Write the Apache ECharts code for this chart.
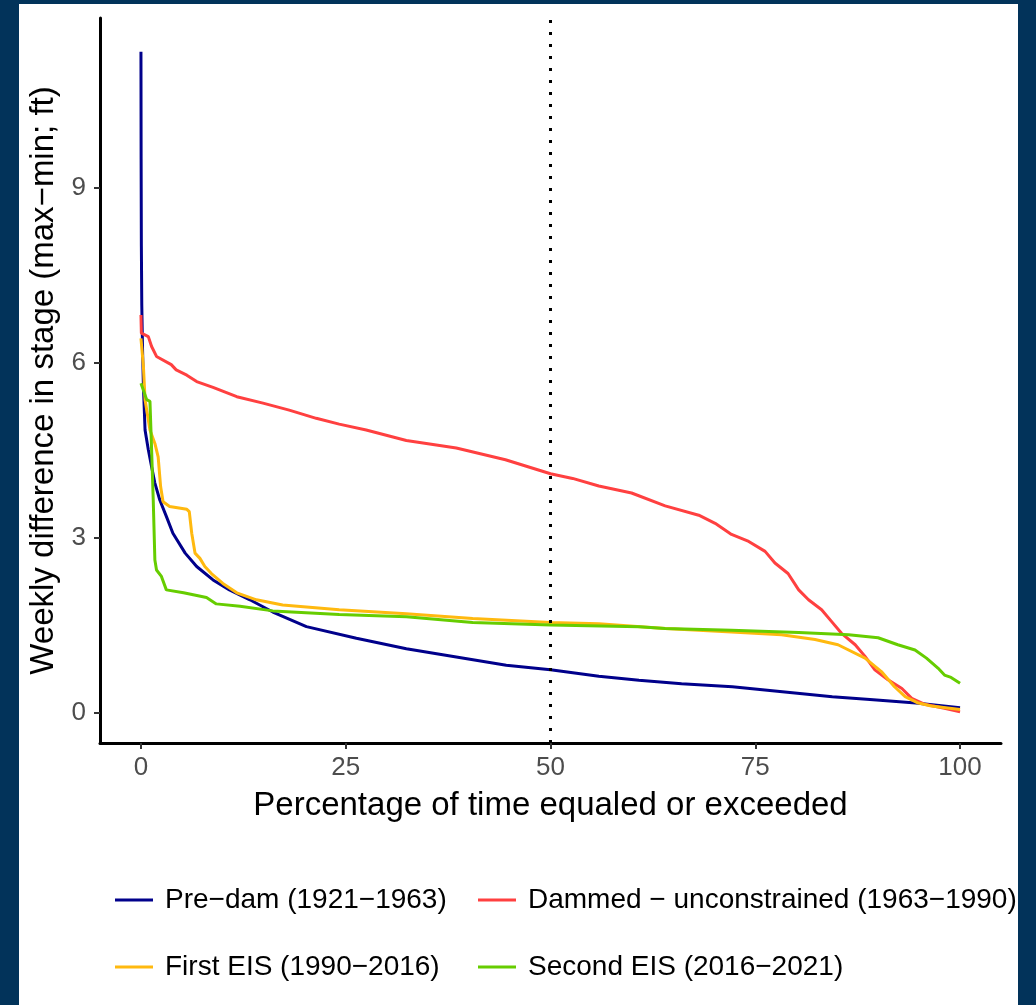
<!DOCTYPE html>
<html>
<head>
<meta charset="utf-8">
<title>Weekly stage difference</title>
<script src="https://cdn.jsdelivr.net/npm/echarts@6/dist/echarts.min.js"></script>
<style>
    html, body { margin: 0; padding: 0; background: #02335a; }
    #chart { position: absolute; left: 19px; top: 4px; width: 999px; height: 1001px; background: #fff; }
</style>
</head>
<body>
<div id="chart"></div>
<script>
// [percent of time equaled or exceeded, weekly max-min stage (ft)]
const preDam = [[0, 11.33], [0.02, 9.5], [0.05, 8.0], [0.1, 7.0], [0.2, 6.2], [0.3, 5.6], [0.5, 4.85], [0.9, 4.51],
    [1.3, 4.22], [1.7, 3.94], [2.3, 3.65], [3.1, 3.37], [3.9, 3.08], [5.4, 2.74], [6.8, 2.51], [8.8, 2.28],
    [10.8, 2.11], [13.3, 1.94], [16.1, 1.73], [20.2, 1.48], [26.3, 1.28], [32.4, 1.10], [38.5, 0.96],
    [44.6, 0.82], [50, 0.74], [55.9, 0.63], [60.8, 0.56], [66, 0.50], [72.2, 0.45], [78, 0.37], [84.4, 0.28],
    [89, 0.23], [94.6, 0.17], [100, 0.09]];
const dammed = [[0, 6.82], [0.05, 6.51], [0.9, 6.45], [1.3, 6.28], [1.9, 6.11], [3.7, 5.97], [4.3, 5.88],
    [5.6, 5.79], [6.8, 5.68], [8.8, 5.58], [11.7, 5.42], [14.9, 5.31], [18.1, 5.19], [21.4, 5.05], [24.2, 4.95],
    [27.5, 4.85], [32.4, 4.67], [38.5, 4.54], [44.5, 4.34], [50, 4.10], [52.7, 4.02], [55.9, 3.89], [59.9, 3.77],
    [64.0, 3.55], [68.1, 3.39], [70.1, 3.25], [72.1, 3.06], [74.2, 2.94], [76.2, 2.77], [77.4, 2.57], [79.0, 2.39],
    [80.3, 2.11], [81.5, 1.94], [83.1, 1.77], [84.3, 1.57], [85.5, 1.37], [87.2, 1.17], [88.4, 0.97], [89.6, 0.74],
    [91.2, 0.57], [92.9, 0.42], [94.1, 0.25], [95.7, 0.15], [98.1, 0.08], [100, 0.02]];
const firstEis = [[0, 6.42], [0.3, 5.94], [0.5, 5.37], [1.1, 4.85], [1.7, 4.62], [2.1, 4.39], [2.4, 3.88],
    [2.7, 3.62], [3.5, 3.54], [5.6, 3.49], [5.9, 3.45], [6.2, 3.08], [6.6, 2.74], [7.2, 2.65], [7.8, 2.51],
    [8.6, 2.39], [10.0, 2.22], [11.7, 2.06], [14.1, 1.94], [17.3, 1.85], [24.2, 1.77], [32.4, 1.70], [40.5, 1.62],
    [50, 1.55], [55.9, 1.53], [64.0, 1.45], [72.1, 1.39], [78.2, 1.34], [82.3, 1.26], [85.1, 1.17], [88.4, 0.94],
    [90.4, 0.71], [92.0, 0.45], [93.3, 0.28], [94.9, 0.17], [96.5, 0.12], [100, 0.06]];
const secondEis = [[0, 5.65], [0.2, 5.62], [0.7, 5.37], [1.1, 5.34], [1.3, 4.51], [1.5, 3.65], [1.7, 2.62],
    [1.9, 2.45], [2.5, 2.34], [2.7, 2.31], [3.1, 2.11], [5.2, 2.06], [8.0, 1.98], [9.2, 1.87], [12.1, 1.83],
    [16.1, 1.75], [24.2, 1.69], [32.4, 1.65], [40.5, 1.55], [50, 1.51], [60.8, 1.48], [64.0, 1.45], [72.1, 1.42],
    [80.3, 1.38], [86.4, 1.34], [90.0, 1.29], [92.4, 1.17], [94.5, 1.08], [95.9, 0.94], [97.3, 0.77], [98.1, 0.65],
    [98.9, 0.61], [100, 0.51]];

const seriesNames = ['Pre\u2212dam (1921\u22121963)', 'Dammed \u2212 unconstrained (1963\u22121990)',
    'First EIS (1990\u22122016)', 'Second EIS (2016\u22122021)'];
const seriesColors = ['#00008b', '#ff4040', '#ffb90f', '#66cd00'];
const xTicks = [0, 25, 50, 75, 100];
const yTicks = [0, 3, 6, 9];
const medianLine = 50;

const font = 'Liberation Sans, Arial, sans-serif';
let myChart = echarts.init(document.getElementById('chart'));

function legendItem (i, left, rowCenter) {
    return {
        data: [seriesNames[i]],
        left: left,
        top: rowCenter - 16,
        icon: 'rect',
        itemWidth: 38,
        itemHeight: 3,
        selectedMode: false,
        textStyle: {
            fontFamily: font,
            fontSize: 28,
            color: '#000',
            lineHeight: 32,
            padding: [0, 0, 0, 7]
        }
    };
}

let dataSets = [preDam, dammed, firstEis, secondEis];
let series = dataSets.map((d, i) => ({
    name: seriesNames[i],
    type: 'line',
    data: d,
    showSymbol: false,
    symbol: 'none',
    lineStyle: { width: 3, color: seriesColors[i] },
    itemStyle: { color: seriesColors[i] }
}));
// dotted reference line at 50%
series[3].markLine = {
    silent: true,
    symbol: 'none',
    label: { show: false },
    lineStyle: { color: '#000', width: 3, type: [3, 9] },
    data: [{ xAxis: medianLine }]
};

myChart.setOption({
    animation: false,
    grid: { left: 81, top: 14, right: 17, bottom: 262 },
    legend: [
        legendItem(0, 91, 891),
        legendItem(1, 454, 891),
        legendItem(2, 91, 958),
        legendItem(3, 454, 958)
    ],
    xAxis: {
        type: 'value',
        min: -5,
        max: 105,
        name: 'Percentage of time equaled or exceeded',
        nameLocation: 'middle',
        nameGap: 46,
        nameTextStyle: { fontFamily: font, fontSize: 33, color: '#000' },
        axisLine: { onZero: false, lineStyle: { color: '#000', width: 3 } },
        axisTick: { customValues: xTicks, length: 6, lineStyle: { color: '#333', width: 2 } },
        axisLabel: { customValues: xTicks, margin: 12, fontFamily: font, fontSize: 26, color: '#4d4d4d' },
        splitLine: { show: false }
    },
    yAxis: {
        type: 'value',
        min: -0.514,
        max: 11.91,
        name: 'Weekly difference in stage (max\u2212min; ft)',
        nameLocation: 'middle',
        nameRotate: 90,
        nameGap: 38,
        nameTextStyle: { fontFamily: font, fontSize: 33, color: '#000' },
        axisLine: { show: true, onZero: false, lineStyle: { color: '#000', width: 3 } },
        axisTick: { show: true, customValues: yTicks, length: 6, lineStyle: { color: '#333', width: 2 } },
        axisLabel: { customValues: yTicks, margin: 14, fontFamily: font, fontSize: 26, color: '#4d4d4d' },
        splitLine: { show: false }
    },
    series: series
});
</script>
</body>
</html>
